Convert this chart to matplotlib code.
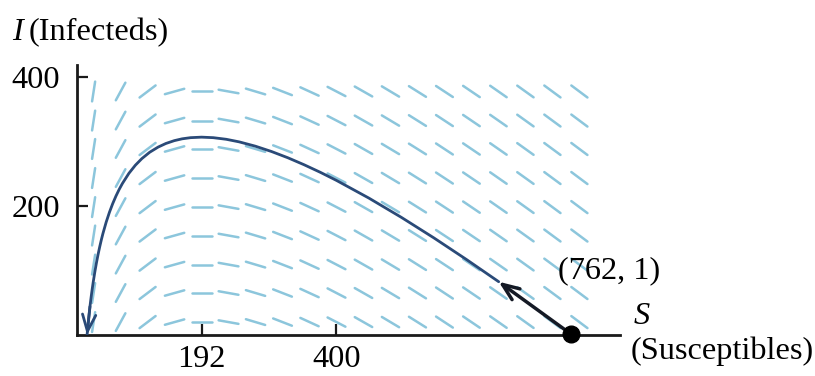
import matplotlib
matplotlib.use('Agg')
import matplotlib.pyplot as plt
from matplotlib.collections import LineCollection
import numpy as np

# Trajectory (S, I)
traj_S = [15.5, 15.8, 16.2, 16.6, 17, 17.5, 18, 19, 20, 21, 22, 23.5, 25, 27.5,
          30, 32.5, 35, 37.5, 40, 45, 50, 55, 60, 65, 70, 80, 90, 100, 112, 125,
          137, 150, 162, 175, 192, 210, 230, 250, 275, 300, 325, 350, 375, 400,
          450, 500, 550, 600, 650]
traj_I = [0, 3.0, 7.4, 11.7, 15.9, 20.9, 25.9, 35.2, 44.1, 52.5, 60.4, 71.5,
          81.9, 97.7, 111.9, 124.8, 136.5, 147.3, 157.2, 174.8, 190.0, 203.3,
          215.0, 225.4, 234.6, 250.3, 262.9, 273.1, 282.9, 290.9, 296.5, 300.9,
          303.7, 305.5, 306.3, 305.5, 303.0, 299.0, 292.3, 284.0, 274.4, 263.6,
          251.9, 239.3, 211.9, 182.1, 150.4, 117.1, 82.5]
start_S, start_I = 762, 1
arrow_S, arrow_I = 650, 82.5

# Slope field: column positions (S), slope per column, row positions (I)
field_S = [25.6, 67.2, 108.8, 150.4, 192, 233.6, 275.2, 316.8, 358.4, 400,
           441.6, 483.2, 524.8, 566.4, 608, 649.6, 691.2, 732.8, 774.4]
field_slope = [6.5, 1.85, 0.76, 0.28, 0.0, -0.18, -0.30, -0.39, -0.46, -0.52,
               -0.57, -0.60, -0.63, -0.66, -0.68, -0.70, -0.72, -0.74, -0.75]
field_I = [20, 65, 109, 154, 198, 243, 288, 332, 377]

xticks = [192, 400]
yticks = [200, 400]

plt.rcParams['font.family'] = ['Liberation Serif', 'DejaVu Serif']
fig = plt.figure(figsize=(8.15, 3.76), dpi=100)
ax = fig.add_axes([77/815, 41/376, 543/815, 270/376])
ax.set_xlim(0, 837)
ax.set_ylim(0, 418)

light = '#8cc6dc'
navy = '#2a4a78'

half = 15.5
segs = []
for s, m in zip(field_S, field_slope):
    dx = half / np.sqrt(1 + m * m)
    dy = m * dx
    for i in field_I:
        segs.append([(s - dx, i - dy), (s + dx, i + dy)])
ax.add_collection(LineCollection(segs, colors=light, linewidths=1.8,
                                 capstyle='round', zorder=1))

ax.plot(traj_S, traj_I, color=navy, lw=2.0, zorder=3, solid_capstyle='round',
        solid_joinstyle='round')
ax.annotate('', xy=(traj_S[0], traj_I[0]), xytext=(traj_S[8], traj_I[8]),
            arrowprops=dict(arrowstyle='->,head_length=0.75,head_width=0.3',
                            color=navy, lw=2.0, shrinkA=0, shrinkB=0,
                            mutation_scale=16), zorder=4)
ax.annotate('', xy=(arrow_S, arrow_I), xytext=(start_S, start_I),
            arrowprops=dict(arrowstyle='->,head_length=0.75,head_width=0.3',
                            color='#151a25', lw=2.5, shrinkA=0, shrinkB=0,
                            mutation_scale=16), zorder=4)
ax.plot([start_S], [start_I], 'o', color='black', ms=12, zorder=5, clip_on=False)

for sp in ['top', 'right']:
    ax.spines[sp].set_visible(False)
for sp in ['left', 'bottom']:
    ax.spines[sp].set_linewidth(2)
    ax.spines[sp].set_color('#1a1a1a')

fs = 23.3
ax.set_xticks(xticks)
ax.set_yticks(yticks)
ax.set_xticklabels([str(v) for v in xticks])
ax.set_yticklabels([str(v) for v in yticks])
ax.tick_params(direction='in', length=8, width=1.6, color='#1a1a1a',
               labelsize=fs)
ax.tick_params(axis='y', pad=12)
ax.tick_params(axis='x', pad=7)

fig.text(12/815, 1 - 33/376, 'I', fontsize=fs, style='italic', va='center', ha='left')
fig.text(29/815, 1 - 33/376, '(Infecteds)', fontsize=fs, va='center', ha='left')
fig.text(609/815, 1 - 271/376, '(762, 1)', fontsize=fs, va='center', ha='center')
fig.text(634/815, 1 - 317/376, 'S', fontsize=fs, style='italic', va='center', ha='left')
fig.text(631/815, 1 - 351/376, '(Susceptibles)', fontsize=fs, va='center', ha='left')

fig.savefig('out.png', dpi=100)
